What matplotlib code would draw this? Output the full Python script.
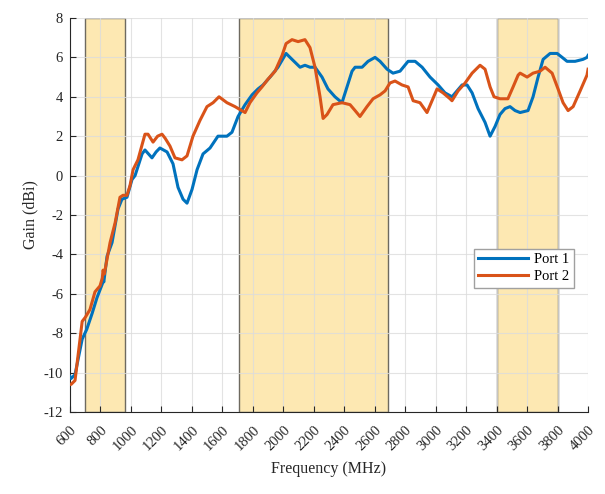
import matplotlib
matplotlib.use("Agg")
import matplotlib.pyplot as plt
import numpy as np

plt.rcParams['font.family'] = ['Liberation Serif', 'DejaVu Serif']
plt.rcParams['axes.unicode_minus'] = False

# Port 1 (blue)
f1 = [600, 607, 633, 680, 710, 745, 777, 797, 812, 817, 822, 843, 876, 915, 941, 974,
      1007, 1027, 1073, 1092, 1115, 1138, 1165, 1190, 1237, 1276, 1309, 1342, 1368, 1401,
      1434, 1473, 1519, 1571, 1630, 1663, 1703, 1749, 1795, 1834, 1867, 1913, 1965, 2018,
      2057, 2110, 2142, 2175, 2208, 2254, 2293, 2339, 2385, 2418, 2451, 2471, 2517, 2556,
      2602, 2635, 2681, 2720, 2766, 2819, 2865, 2911, 2963, 3016, 3061, 3107, 3140, 3173,
      3206, 3239, 3278, 3324, 3357, 3390, 3422, 3455, 3488, 3521, 3554, 3606, 3639, 3672,
      3705, 3751, 3797, 3830, 3862, 3915, 3967, 3993, 4000]
g1 = [-10.2, -10.3, -10.1, -8.3, -7.8, -7.0, -6.2, -5.8, -5.5, -5.3, -5.4, -4.1, -3.4, -1.7,
      -1.2, -1.1, -0.2, 0.0, 1.1, 1.3, 1.1, 0.9, 1.2, 1.4, 1.2, 0.6, -0.6, -1.2, -1.4, -0.7,
      0.3, 1.1, 1.4, 2.0, 2.0, 2.2, 3.0, 3.6, 4.1, 4.4, 4.6, 5.0, 5.5, 6.2,
      5.9, 5.5, 5.6, 5.5, 5.5, 5.0, 4.4, 4.0, 3.7, 4.5, 5.3, 5.5, 5.5, 5.8,
      6.0, 5.8, 5.4, 5.2, 5.3, 5.8, 5.8, 5.5, 5.0, 4.6, 4.2, 4.0, 4.3, 4.6,
      4.6, 4.2, 3.4, 2.7, 2.0, 2.5, 3.1, 3.4, 3.5, 3.3, 3.2, 3.3, 4.0, 5.0,
      5.9, 6.2, 6.2, 6.0, 5.8, 5.8, 5.9, 6.0, 6.1]

# Port 2 (orange)
f2 = [600, 607, 633, 680, 700, 731, 764, 797, 812, 817, 825, 863, 896, 928, 948, 974,
      994, 1014, 1046, 1092, 1112, 1145, 1175, 1204, 1224, 1256, 1289, 1335, 1368, 1407,
      1453, 1499, 1539, 1578, 1630, 1683, 1749, 1781, 1827, 1860, 1900, 1946, 1992, 2018,
      2057, 2097, 2142, 2175, 2208, 2241, 2261, 2287, 2326, 2385, 2438, 2471, 2503, 2549,
      2589, 2635, 2668, 2700, 2733, 2779, 2819, 2852, 2897, 2943, 2976, 3009, 3048, 3094,
      3107, 3147, 3193, 3239, 3291, 3324, 3357, 3383, 3422, 3474, 3508, 3541, 3554, 3600,
      3639, 3685, 3718, 3764, 3803, 3836, 3869, 3902, 3948, 3993, 4000]
g2 = [-10.6, -10.6, -10.4, -7.4, -7.2, -6.8, -5.9, -5.6, -5.2, -4.8, -5.0, -3.4, -2.4, -1.1,
      -1.0, -1.0, -0.5, 0.3, 0.8, 2.1, 2.1, 1.7, 2.0, 2.1, 1.9, 1.5, 0.9, 0.8, 1.0, 2.0,
      2.8, 3.5, 3.7, 4.0, 3.7, 3.5, 3.2, 3.7, 4.2, 4.5, 4.9, 5.3, 6.1, 6.7,
      6.9, 6.8, 6.9, 6.5, 5.5, 4.0, 2.9, 3.1, 3.6, 3.7, 3.6, 3.3, 3.0, 3.5,
      3.9, 4.1, 4.3, 4.7, 4.8, 4.6, 4.5, 3.8, 3.7, 3.2, 3.8, 4.4, 4.2, 3.9,
      3.8, 4.3, 4.7, 5.2, 5.6, 5.4, 4.5, 4.0, 3.9, 3.9, 4.5, 5.1, 5.2, 5.0,
      5.2, 5.3, 5.5, 5.2, 4.4, 3.7, 3.3, 3.5, 4.3, 5.1, 5.4]

bands = [(698, 960), (1710, 2690), (3400, 3800)]
xticks = list(range(600, 4001, 200))
yticks = list(range(-12, 9, 2))

fig = plt.figure(figsize=(6.05, 4.94), dpi=100)
ax = fig.add_axes([0.1157, 0.166, 0.8563, 0.7976])

for a, b in bands:
    ax.axvspan(a, b, facecolor='#FDE8B2', edgecolor='#6E6A60', linewidth=1.0, zorder=0.3)

ax.plot(f1, g1, color='#0072BD', linewidth=2.2, label='Port 1', zorder=3)
ax.plot(f2, g2, color='#D95319', linewidth=2.2, label='Port 2', zorder=3)

ax.set_xlim(600, 4000)
ax.set_ylim(-12, 8)
ax.set_xticks(xticks)
ax.set_yticks(yticks)
ax.set_xticklabels([str(t) for t in xticks], rotation=45, ha='right', va='top',
                   rotation_mode='anchor')
ax.set_axisbelow(True)
ax.grid(True, color='#DCDCDC', linewidth=0.8, alpha=0.8, zorder=0.5)
ax.tick_params(direction='in', length=4, labelsize=10.5, colors='#262626', width=0.8)
ax.tick_params(axis='x', pad=8)
ax.tick_params(axis='y', pad=5)
for s in ['top', 'right']:
    ax.spines[s].set_visible(False)
for s in ['left', 'bottom']:
    ax.spines[s].set_color('#262626')
    ax.spines[s].set_linewidth(0.8)

ax.set_xlabel('Frequency (MHz)', fontsize=11.5, color='#262626', labelpad=6)
ax.set_ylabel('Gain (dBi)', fontsize=11.5, color='#262626', labelpad=4)

leg = ax.legend(loc='upper left', bbox_to_anchor=(0.78, 0.414), borderaxespad=0,
                fontsize=10.5, fancybox=False, edgecolor='#A0A0A0', framealpha=1,
                handlelength=3.4, handletextpad=0.4, borderpad=0.3, labelspacing=0.25)
leg.get_frame().set_linewidth(1.0)

fig.savefig('out.png', dpi=100)
